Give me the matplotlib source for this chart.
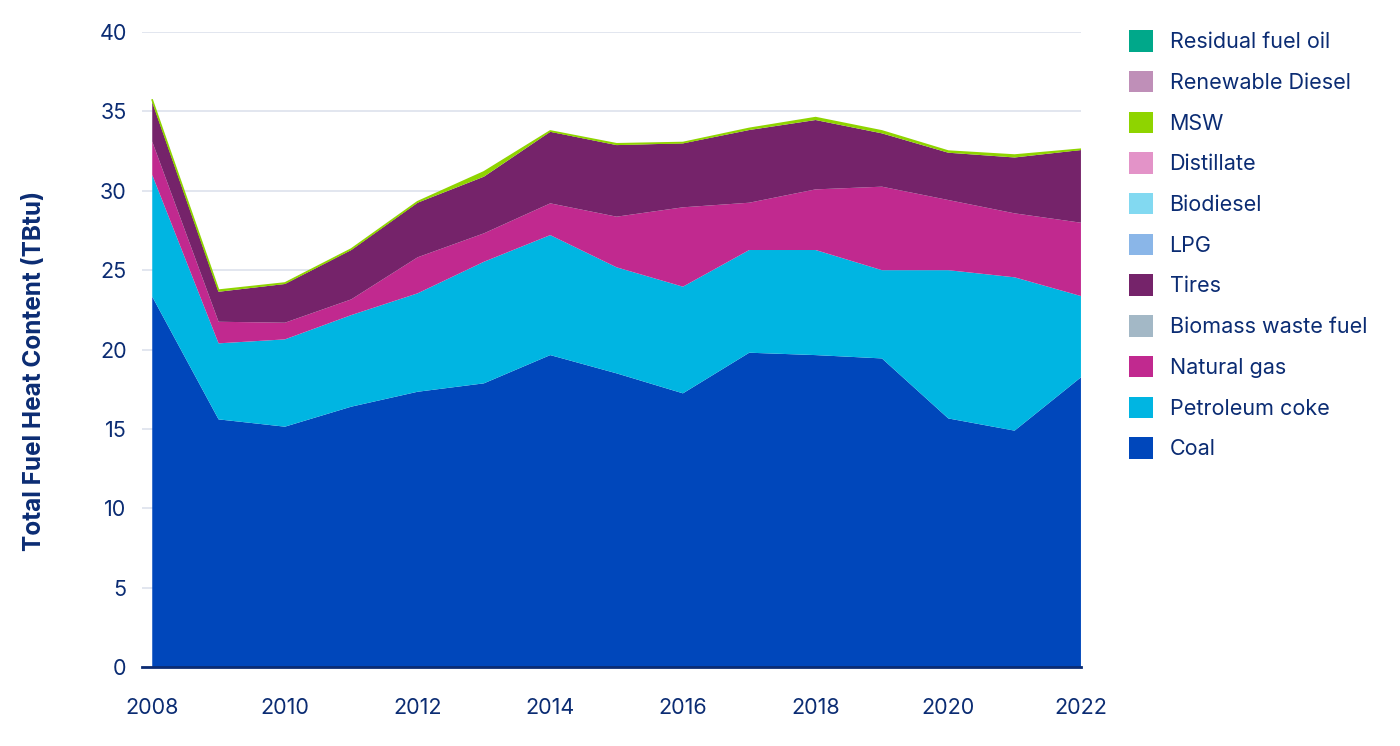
import matplotlib
matplotlib.use("Agg")
import matplotlib.pyplot as plt
from matplotlib.patches import Patch
import numpy as np

years = list(range(2008, 2023))
coal = [23.33, 15.6, 15.14, 16.4, 17.34, 17.87, 19.65, 18.5, 17.24, 19.8, 19.65, 19.44, 15.66, 14.89, 18.25]
petroleum_coke = [7.67, 4.79, 5.5, 5.77, 6.2, 7.66, 7.56, 6.68, 6.72, 6.47, 6.62, 5.56, 9.34, 9.66, 5.12]
natural_gas = [2.1, 1.36, 1.05, 0.99, 2.27, 1.79, 2.0, 3.19, 5.0, 2.98, 3.82, 5.26, 4.42, 4.03, 4.62]
biomass_waste_fuel = [0.0] * 15
tires = [2.5, 1.89, 2.44, 3.11, 3.44, 3.57, 4.51, 4.51, 4.03, 4.58, 4.37, 3.36, 2.98, 3.52, 4.58]
lpg = [0.0] * 15
biodiesel = [0.0] * 15
distillate = [0.0] * 15
msw = [0.12, 0.1, 0.06, 0.06, 0.06, 0.3, 0.05, 0.08, 0.05, 0.1, 0.15, 0.15, 0.1, 0.15, 0.05]
renewable_diesel = [0.0] * 15
residual_fuel_oil = [0.0] * 15

series_names = ["Coal", "Petroleum coke", "Natural gas", "Biomass waste fuel", "Tires",
                "LPG", "Biodiesel", "Distillate", "MSW", "Renewable Diesel", "Residual fuel oil"]
series_values = [coal, petroleum_coke, natural_gas, biomass_waste_fuel, tires,
                 lpg, biodiesel, distillate, msw, renewable_diesel, residual_fuel_oil]
colors = ["#0047bb", "#00b5e2", "#c1298f", "#a3b8c6", "#75236a",
          "#8ab6e8", "#82d9f1", "#e393c8", "#8fd400", "#bf8fb8", "#00a88a"]

y_ticks = [0, 5, 10, 15, 20, 25, 30, 35, 40]
x_ticks = [2008, 2010, 2012, 2014, 2016, 2018, 2020, 2022]

navy = "#0b2c73"
plt.rcParams['font.family'] = ['Inter', 'DejaVu Sans']

fig = plt.figure(figsize=(14, 7.46), dpi=100)
ax = fig.add_axes([0.1014, 0.1059, 0.6707, 0.8511])

ax.stackplot(years, *series_values, colors=colors, labels=series_names, linewidth=0)
# thin MSW edge on top
tops = np.sum(np.array(series_values), axis=0)
ax.plot(years, tops, color="#8fd400", linewidth=1.2, zorder=3)

ax.set_xlim(2007.845, 2022)
ax.set_ylim(0, 40)
ax.set_yticks(y_ticks)
ax.set_xticks(x_ticks)
ax.grid(axis='y', color="#dde1ec", linewidth=1.2)
ax.set_axisbelow(True)
for s in ["top", "right", "left"]:
    ax.spines[s].set_visible(False)
ax.spines["bottom"].set_color(navy)
ax.spines["bottom"].set_linewidth(2)
ax.spines["bottom"].set_zorder(5)
ax.tick_params(axis='both', length=0, labelsize=15.5, labelcolor=navy)
ax.tick_params(axis='y', pad=11)
ax.tick_params(axis='x', pad=22)
ax.set_ylabel("Total Fuel Heat Content (TBtu)", fontsize=17.5, fontweight='bold', color=navy)
ax.yaxis.set_label_coords(-0.102, 0.466)

handles = [Patch(facecolor=c, edgecolor='none') for c in colors]
leg = fig.legend(handles[::-1], series_names[::-1], loc='upper left',
                 bbox_to_anchor=(0.8, 0.971), frameon=False, fontsize=15.5,
                 handlelength=1.15, handleheight=1.15, labelspacing=0.87,
                 handletextpad=0.75, borderaxespad=0)
for t in leg.get_texts():
    t.set_color(navy)

fig.savefig("out.png", dpi=100)
